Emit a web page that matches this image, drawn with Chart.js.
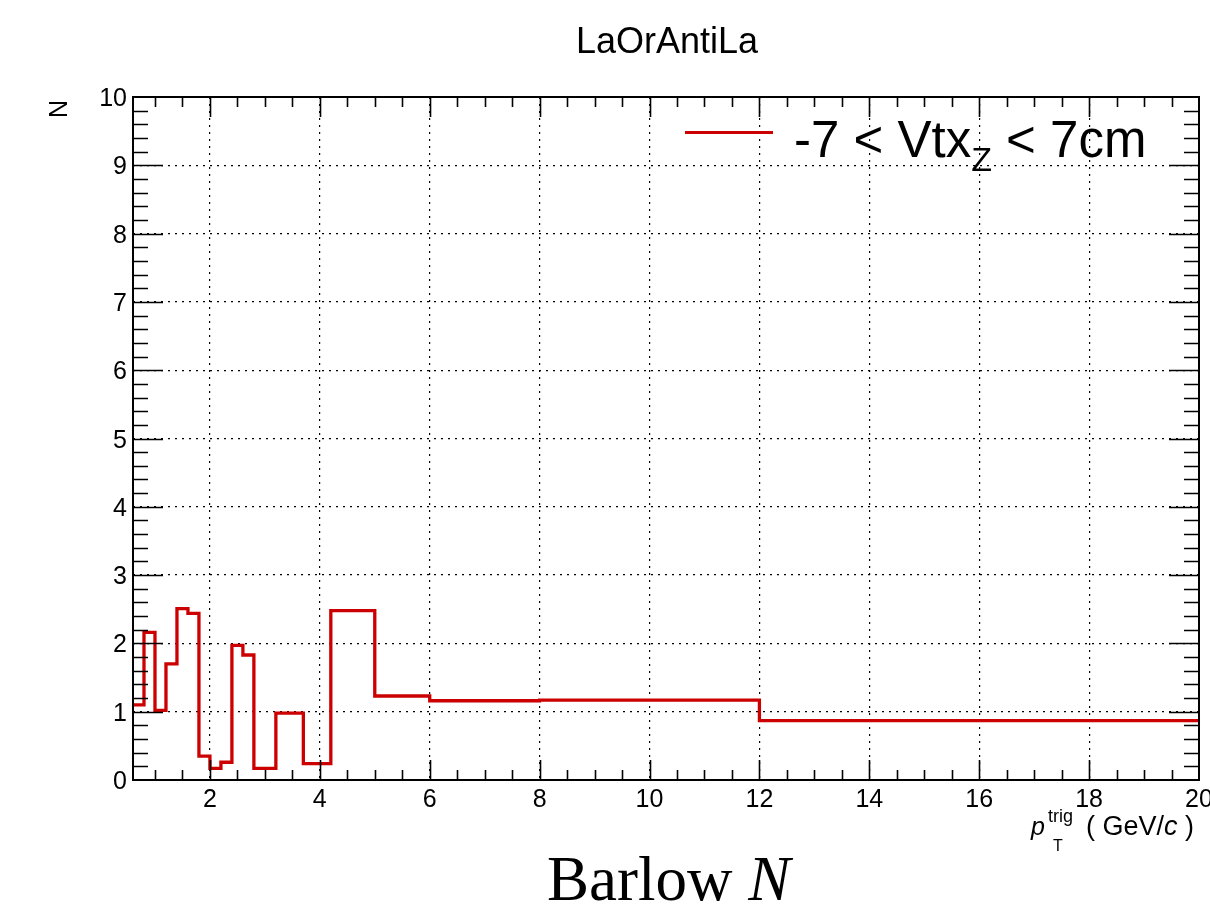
<!DOCTYPE html>
<html>
<head>
<meta charset="utf-8">
<script src="https://cdn.jsdelivr.net/npm/chart.js@4.4.1/dist/chart.umd.min.js"></script>
<style>
  html, body { margin: 0; padding: 0; background: #ffffff; }
  canvas { display: block; }
</style>
</head>
<body>
<canvas id="c" width="1210" height="906"></canvas>
<script>
// Bin low edges of the pT(trig) histogram (GeV/c); the last bin ends at xMax
const binEdges = [0.6, 0.8, 1.0, 1.2, 1.4, 1.6, 1.8, 2.0, 2.2, 2.4, 2.6, 2.8, 3.2, 3.7, 4.2, 5.0, 6.0, 8.0, 12.0];
// Barlow N per bin
const barlowN = [1.10, 2.16, 1.02, 1.70, 2.51, 2.44, 0.35, 0.17, 0.26, 1.97, 1.83, 0.17, 0.98, 0.24, 2.48, 1.23, 1.16, 1.17, 0.87];
const xMin = 0.6, xMax = 20;
const yMin = 0, yMax = 10;
const xTickLabels = [2, 4, 6, 8, 10, 12, 14, 16, 18, 20];
const yTickLabels = [0, 1, 2, 3, 4, 5, 6, 7, 8, 9, 10];

const histTitle = 'LaOrAntiLa';
const legendMain = '-7 < Vtx';
const legendSub = 'Z';
const legendTail = ' < 7cm';

const RED = '#cc0000';
const SANS = '"Liberation Sans", Arial, Helvetica, sans-serif';
const SERIF = '"Liberation Serif", "Times New Roman", serif';

// Step points: each bin value starts at its low edge, closing point at xMax
const stepPoints = binEdges.map((e, i) => ({ x: e, y: barlowN[i] }));
stepPoints.push({ x: xMax, y: barlowN[barlowN.length - 1] });

// Minor tick positions (every 0.5 on x, 0.2 on y)
function range(a, b, step) {
  const out = [];
  for (let v = a; v <= b + 1e-9; v += step) out.push(Math.round(v * 1000) / 1000);
  return out;
}
const xMinor = range(1.0, 20, 0.5);
const yMinor = range(0, 10, 0.2);

// Draws text pieces one after another from x, each with its own font
function drawRun(ctx, x, y, pieces) {
  pieces.forEach(([txt, font]) => {
    ctx.font = font;
    ctx.fillText(txt, x, y);
    x += ctx.measureText(txt).width;
  });
}

const frameAndText = {
  id: 'frameAndText',
  afterDatasetsDraw(chart) {
    const { ctx, chartArea: a, scales } = chart;
    const xs = scales.x, ys = scales.y;
    ctx.save();
    ctx.strokeStyle = '#000';
    ctx.lineWidth = 2;
    ctx.setLineDash([]);
    ctx.strokeRect(a.left, a.top, a.right - a.left, a.bottom - a.top);

    ctx.lineWidth = 1.6;
    ctx.beginPath();
    // x ticks, bottom and top, pointing inward
    xMinor.forEach(v => {
      if (v <= xMin || v >= xMax) return;
      const px = Math.round(xs.getPixelForValue(v)) + 0.5;
      const major = Math.abs(v / 2 - Math.round(v / 2)) < 1e-6;
      const len = major ? 20 : 10;
      ctx.moveTo(px, a.bottom); ctx.lineTo(px, a.bottom - len);
      ctx.moveTo(px, a.top); ctx.lineTo(px, a.top + len);
    });
    // y ticks, left and right, pointing inward
    yMinor.forEach(v => {
      if (v <= yMin || v >= yMax) return;
      const py = Math.round(ys.getPixelForValue(v)) + 0.5;
      const major = Math.abs(v - Math.round(v)) < 1e-6;
      const len = major ? 30 : 15;
      ctx.moveTo(a.left, py); ctx.lineTo(a.left + len, py);
      ctx.moveTo(a.right, py); ctx.lineTo(a.right - len, py);
    });
    ctx.stroke();

    // tick labels
    ctx.fillStyle = '#000';
    ctx.font = '25px ' + SANS;
    ctx.textBaseline = 'alphabetic';
    ctx.textAlign = 'center';
    xTickLabels.forEach(v => {
      ctx.fillText(String(v), xs.getPixelForValue(v), a.bottom + 26.5);
    });
    ctx.textAlign = 'right';
    yTickLabels.forEach(v => {
      ctx.fillText(String(v), a.left - 6, ys.getPixelForValue(v) + 9);
    });

    // y axis title
    ctx.save();
    ctx.translate(67, 109);
    ctx.rotate(-Math.PI / 2);
    ctx.textAlign = 'center';
    ctx.font = '25px ' + SANS;
    ctx.fillText('N', 0, 0);
    ctx.restore();

    // x axis title: p_T^trig ( GeV/c )
    ctx.textAlign = 'left';
    ctx.font = 'italic 25px ' + SANS;
    ctx.fillText('p', 1031, 835);
    ctx.font = '16px ' + SANS;
    ctx.fillText('T', 1053, 851);
    ctx.font = '18px ' + SANS;
    ctx.fillText('trig', 1048, 822);
    drawRun(ctx, 1086, 835, [
      ['( GeV/', '27px ' + SANS],
      ['c', 'italic 27px ' + SANS],
      [' )', '27px ' + SANS]
    ]);

    // histogram title
    ctx.textAlign = 'center';
    ctx.font = '36px ' + SANS;
    ctx.fillText(histTitle, 667, 53);

    // legend entry
    ctx.strokeStyle = RED;
    ctx.lineWidth = 3;
    ctx.beginPath();
    ctx.moveTo(685, 132.5);
    ctx.lineTo(773, 132.5);
    ctx.stroke();
    ctx.textAlign = 'left';
    drawRun(ctx, 794, 157, [[legendMain, '51px ' + SANS]]);
    ctx.font = '51px ' + SANS;
    let lx = 794 + ctx.measureText(legendMain).width;
    ctx.font = '34px ' + SANS;
    ctx.fillText(legendSub, lx, 171);
    lx += ctx.measureText(legendSub).width;
    drawRun(ctx, lx, 157, [[legendTail, '51px ' + SANS]]);

    // caption
    drawRun(ctx, 547, 900, [
      ['Barlow ', '63px ' + SERIF],
      ['N', 'italic 63px ' + SERIF]
    ]);

    ctx.restore();
  }
};

new Chart(document.getElementById('c'), {
  type: 'line',
  data: {
    datasets: [{
      label: 'Barlow N',
      data: stepPoints,
      stepped: true,
      borderColor: RED,
      borderWidth: 3.3,
      pointRadius: 0,
      fill: false,
      tension: 0
    }]
  },
  options: {
    responsive: false,
    animation: false,
    devicePixelRatio: 1,
    layout: { padding: { left: 133, right: 11, top: 97, bottom: 126 } },
    plugins: { legend: { display: false }, tooltip: { enabled: false }, title: { display: false } },
    scales: {
      x: {
        type: 'linear', min: xMin, max: xMax,
        afterBuildTicks: s => { s.ticks = xTickLabels.map(v => ({ value: v })); },
        ticks: { display: false },
        grid: { display: true, drawTicks: false, color: '#000', lineWidth: 1.2 },
        border: { display: false, dash: [2, 5] }
      },
      y: {
        type: 'linear', min: yMin, max: yMax,
        afterBuildTicks: s => { s.ticks = yTickLabels.map(v => ({ value: v })); },
        ticks: { display: false },
        grid: { display: true, drawTicks: false, color: '#000', lineWidth: 1.2 },
        border: { display: false, dash: [2, 5] }
      }
    }
  },
  plugins: [frameAndText]
});
</script>
</body>
</html>
